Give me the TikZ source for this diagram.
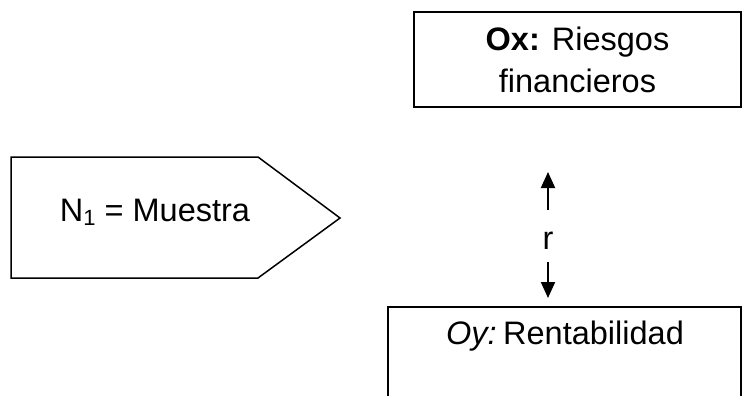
\documentclass[tikz,border=0pt]{standalone}
\usepackage{fontspec}
\setmainfont{Liberation Sans}
\usetikzlibrary{arrows.meta}

\tikzset{
  boxline/.style={line width=1.5pt},
  label/.style={font=\fontsize{32.5}{42}\selectfont, align=center, inner sep=0pt},
  rarrow/.style={line width=2pt, -{Triangle[length=16pt,width=14pt]}}
}

\begin{document}
\begin{tikzpicture}[x=1pt,y=-1pt]
			%%%%% START %%%%%
			\useasboundingbox (0,0) rectangle (742,396);
			
			% Ox box
			\node[draw, boxline, minimum width=327pt, minimum height=95pt, label] (ox) at (577.5,59.5)
			  {\textbf{Ox:} Riesgos\\financieros};
			
			% N1 arrow shape
			\draw[boxline] (11,157) -- (258,157) -- (340,218) -- (258,278) -- (11,278) -- cycle;
			\node[label] (n1) at (155,212) {N\raisebox{-0.12em}{\fontsize{22}{22}\selectfont 1} = Muestra};
			
			% Oy box, cut at the bottom
			\draw[boxline] (388,396) -- (388,307) -- (741,307) -- (741,396);
			\node[label] (oy) at (565,336) {\textit{Oy:}\hspace{0.2em}Rentabilidad};
			
			% r with the two arrows
			\node[label] (r) at (548,241) {r};
			\coordinate (rtop) at (548,210);
			\coordinate (uptip) at (548,172);
			\coordinate (rbot) at (548,262);
			\coordinate (downtip) at (548,298);
			\draw[rarrow] (rtop) -- (uptip);
			\draw[rarrow] (rbot) -- (downtip);
			%%%%% END %%%%%
		\end{tikzpicture}
\end{document}
